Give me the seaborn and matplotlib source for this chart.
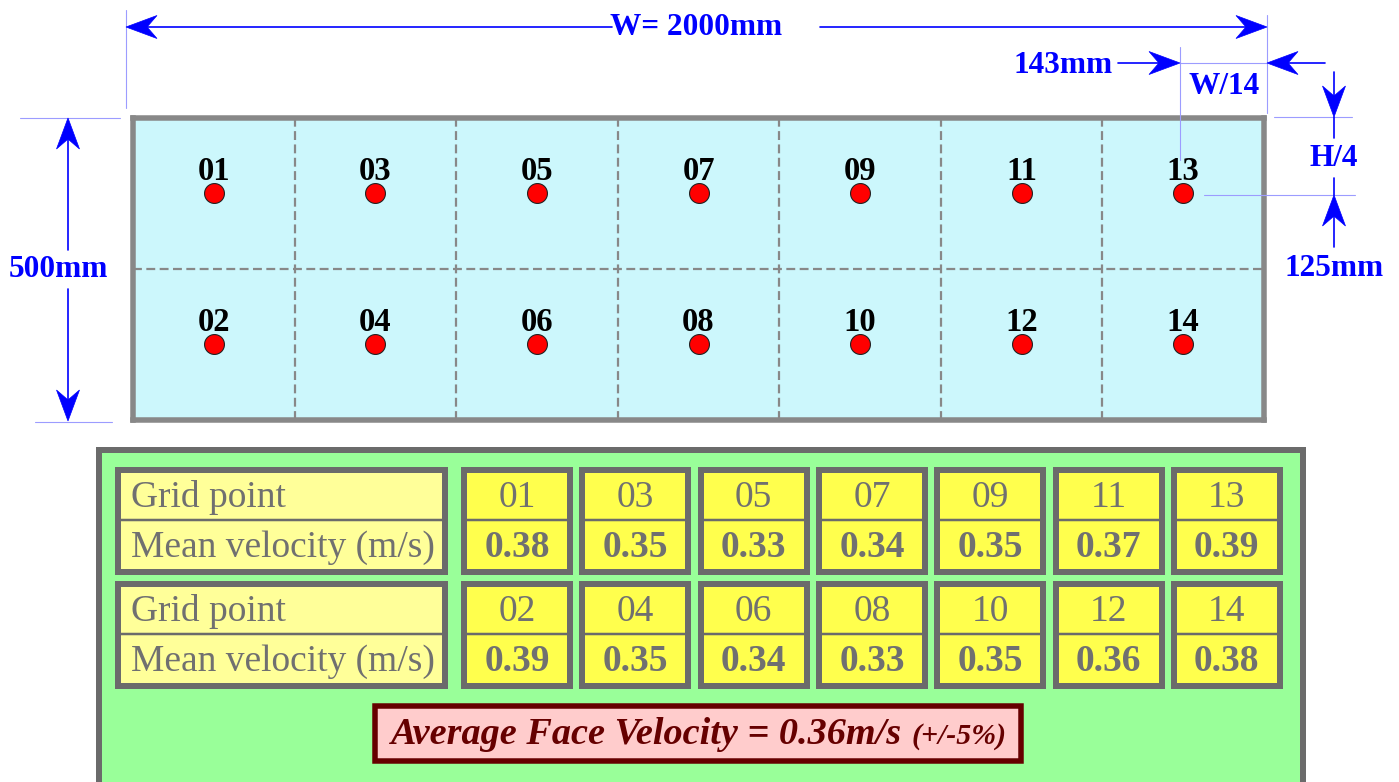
import numpy as np
import pandas as pd
import seaborn as sns
import matplotlib.pyplot as plt
from matplotlib.patches import Rectangle, Polygon

# Data
width_mm = 2000
height_mm = 500
n_cols = 7
grid_top = ['01', '03', '05', '07', '09', '11', '13']
grid_bottom = ['02', '04', '06', '08', '10', '12', '14']
vel_top = [0.38, 0.35, 0.33, 0.34, 0.35, 0.37, 0.39]
vel_bottom = [0.39, 0.35, 0.34, 0.33, 0.35, 0.36, 0.38]
avg_velocity = 0.36
tolerance = 5

# Colours
blue = '#0000ff'
light_blue = '#9c9cff'
face_grey = '#888888'
tab_grey = '#6b6b6b'
txt_grey = '#707070'
dark_red = '#660000'

PX = 0.72  # points per pixel at dpi 100


def box(ax, x0, y0, x1, y1, fc, ec, lw_px, z=2):
    h = lw_px / 2
    ax.add_patch(Rectangle((x0 + h, y0 + h), x1 - x0 - lw_px, y1 - y0 - lw_px,
                           facecolor=fc, edgecolor=ec, linewidth=lw_px * PX,
                           joinstyle='miter', zorder=z))


def dim_arrow(ax, x0, y0, x1, y1, L=31, w=11.5):
    u = np.array([x1 - x0, y1 - y0], dtype=float)
    u /= np.hypot(*u)
    n = np.array([-u[1], u[0]])
    tip = np.array([x1, y1], dtype=float)
    notch = tip - 0.68 * L * u
    pts = [tip, tip - L * u + w * n, notch, tip - L * u - w * n]
    ax.plot([x0, notch[0]], [y0, notch[1]], color=blue, lw=1.2, zorder=6)
    ax.add_patch(Polygon(pts, closed=True, facecolor=blue, edgecolor=blue, lw=0.5, zorder=6))


def ext_line(ax, x0, y0, x1, y1):
    ax.plot([x0, x1], [y0, y1], color=light_blue, lw=0.8, zorder=5)


sns.set_theme(style='white')
plt.rcParams['font.family'] = ['Liberation Serif', 'DejaVu Serif']

fig = plt.figure(figsize=(13.99, 7.82), dpi=100)

# Duct face in mm
ax = fig.add_axes([133 / 1399, 1 - 419.5 / 782, (1264 - 133) / 1399, (419.5 - 117.5) / 782])
cell_w = width_mm / n_cols
xs = [(i + 0.5) * cell_w for i in range(n_cols)]
df = pd.DataFrame({'point': grid_top + grid_bottom,
                   'x': xs * 2,
                   'y': [height_mm / 4] * n_cols + [3 * height_mm / 4] * n_cols})
for i in range(1, n_cols):
    ax.axvline(i * cell_w, color=face_grey, lw=1.6, ls=(0, (4, 2)), zorder=1)
ax.axhline(height_mm / 2, color=face_grey, lw=1.6, ls=(0, (4, 2)), zorder=1)
sns.scatterplot(data=df, x='x', y='y', ax=ax, s=205, color='#ff0000',
                edgecolor='#222222', linewidth=0.8, legend=False, zorder=3)
for _, r in df.iterrows():
    ax.annotate(r['point'], (r['x'], r['y']), xytext=(0, 9.5), textcoords='offset points',
                ha='center', va='baseline', fontsize=23.5, fontweight='bold', color='black')
ax.set_xlim(0, width_mm)
ax.set_ylim(height_mm, 0)
ax.set_facecolor('#ccf7fc')
ax.set_xticks([])
ax.set_yticks([])
ax.set_xlabel('')
ax.set_ylabel('')
for s in ax.spines.values():
    s.set_visible(True)
    s.set_color(face_grey)
    s.set_linewidth(5.5 * PX)

# Overlay in pixel coordinates
ov = fig.add_axes([0, 0, 1, 1], zorder=5)
ov.set_xlim(0, 1399)
ov.set_ylim(782, 0)
ov.axis('off')

dim_kw = dict(color=blue, fontsize=22.5, fontweight='bold', va='baseline', zorder=7)

# Width dimension
ext_line(ov, 126, 10, 126, 108)
ext_line(ov, 1267, 15, 1267, 113)
dim_arrow(ov, 612, 27, 126, 27)
dim_arrow(ov, 820, 27, 1267, 27)
ov.text(696, 35, f'W= {width_mm}mm', ha='center', **dim_kw)

# W/14 dimension
ext_line(ov, 1180, 47, 1180, 160)
ext_line(ov, 1180, 63, 1267, 63)
dim_arrow(ov, 1118, 63, 1180, 63)
dim_arrow(ov, 1325, 63, 1267, 63)
ov.text(1113, 73, f'{round(width_mm / 14)}mm', ha='right', **dim_kw)
ov.text(1224, 94, 'W/14', ha='center', **dim_kw)

# H/4 dimension
ext_line(ov, 1274, 117, 1352, 117)
ext_line(ov, 1204, 195, 1355, 195)
dim_arrow(ov, 1334, 72, 1334, 117)
dim_arrow(ov, 1334, 247, 1334, 195)
ov.plot([1334, 1334], [117, 138], color=blue, lw=1.2, zorder=6)
ov.plot([1334, 1334], [178, 195], color=blue, lw=1.2, zorder=6)
ov.text(1334, 166, 'H/4', ha='center', **dim_kw)
ov.text(1334, 276, f'{round(height_mm / 4)}mm', ha='center', **dim_kw)

# Height dimension
ext_line(ov, 20, 118, 120, 118)
ext_line(ov, 35, 422, 112, 422)
dim_arrow(ov, 68, 250, 68, 118)
dim_arrow(ov, 68, 289, 68, 421)
ov.text(58, 277, f'{height_mm}mm', ha='center', **dim_kw)

# Results panel
box(ov, 96, 447, 1306, 800, '#99ff99', tab_grey, 6, z=1)

rows = [(grid_top, vel_top, 467), (grid_bottom, vel_bottom, 581)]
tab_kw = dict(color=txt_grey, fontsize=27, va='baseline', zorder=4)
for pts, vels, y0 in rows:
    y1 = y0 + 108
    ym = y0 + 53
    box(ov, 115, y0, 448, y1, '#ffff99', tab_grey, 6)
    ov.plot([118, 445], [ym, ym], color=tab_grey, lw=2.5 * PX, zorder=3)
    ov.text(131, y0 + 40, 'Grid point', ha='left', **tab_kw)
    ov.text(131, y0 + 90, 'Mean velocity (m/s)', ha='left', **tab_kw)
    for i, (p, v) in enumerate(zip(pts, vels)):
        bx0 = 461 + 118.3 * i
        bx1 = bx0 + 112
        cx = (bx0 + bx1) / 2
        box(ov, bx0, y0, bx1, y1, '#ffff4d', tab_grey, 6)
        ov.plot([bx0 + 3, bx1 - 3], [ym, ym], color=tab_grey, lw=2.5 * PX, zorder=3)
        ov.text(cx, y0 + 40, p, ha='center', **tab_kw)
        ov.text(cx, y0 + 90, f'{v:.2f}', ha='center', fontweight='bold', **tab_kw)

# Average box
box(ov, 372, 703, 1024, 764, '#ffcccc', dark_red, 5.5, z=2)
main = ov.text(391, 744, f'Average Face Velocity = {avg_velocity:.2f}m/s', ha='left',
               va='baseline', fontsize=27.5, fontweight='bold', fontstyle='italic',
               color=dark_red, zorder=4)
fig.canvas.draw()
bb = main.get_window_extent()
x_end = ov.transData.inverted().transform((bb.x1, bb.y0))[0]
ov.text(x_end + 9, 744, f'(+/-{tolerance}%)', ha='left', va='baseline', fontsize=21.5,
        fontweight='bold', fontstyle='italic', color=dark_red, zorder=4)

fig.savefig('out.png', dpi=100)
